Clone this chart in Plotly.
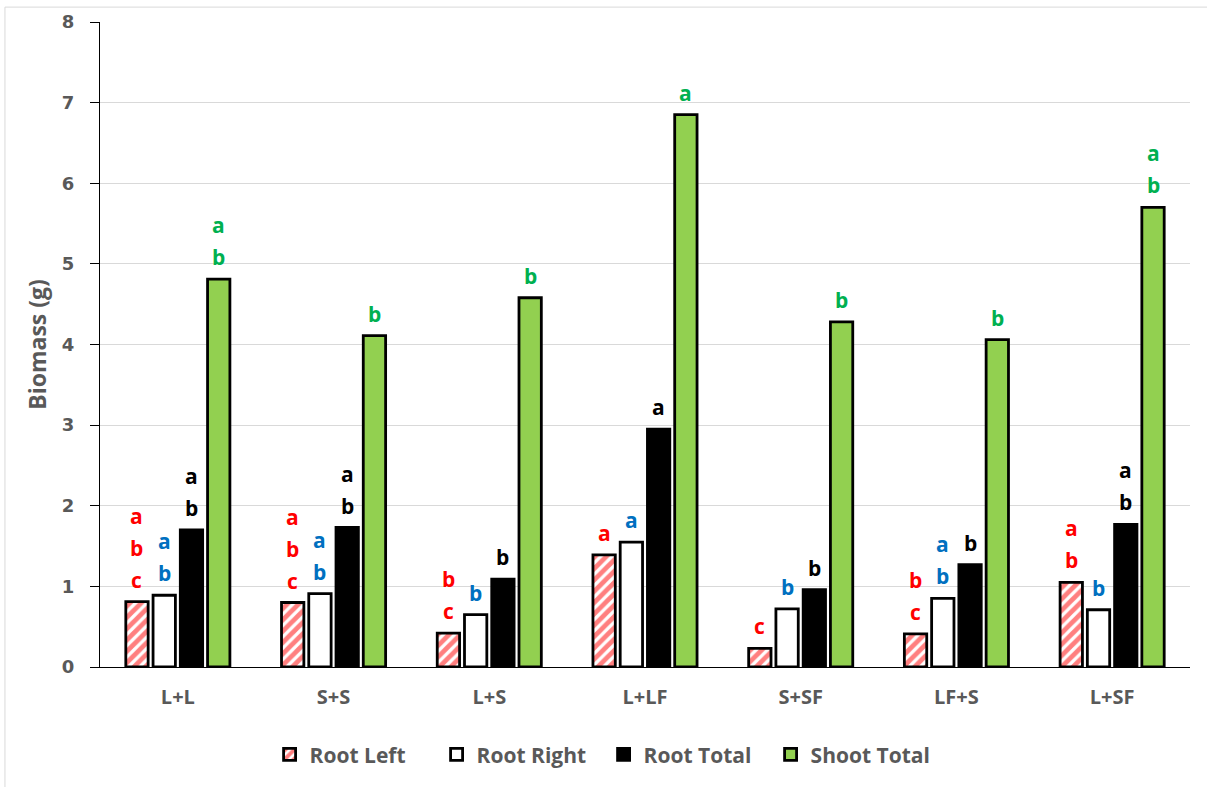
import plotly.graph_objects as go

# Treatments and biomass means (g)
categories = ["L+L", "S+S", "L+S", "L+LF", "S+SF", "LF+S", "L+SF"]
root_left = [0.81, 0.80, 0.42, 1.39, 0.23, 0.41, 1.05]
root_right = [0.89, 0.91, 0.65, 1.55, 0.72, 0.85, 0.71]
root_total = [1.70, 1.73, 1.09, 2.95, 0.96, 1.27, 1.77]
shoot_total = [4.81, 4.11, 4.58, 6.85, 4.28, 4.06, 5.70]

# Significance letters, listed top to bottom for each bar
letters_root_left = ["abc", "abc", "bc", "a", "c", "bc", "ab"]
letters_root_right = ["ab", "ab", "b", "a", "b", "ab", "b"]
letters_root_total = ["ab", "ab", "b", "a", "b", "b", "ab"]
letters_shoot_total = ["ab", "b", "b", "a", "b", "b", "ab"]

TEXT_GREY = "#595959"
LABEL_FONT = "Open Sans"

fig = go.Figure()

line = dict(color="black", width=2.8)
fig.add_trace(go.Bar(
    name="Root Left", x=categories, y=root_left,
    marker=dict(color="white", line=line,
                pattern=dict(shape="/", fgcolor="#FF0000", bgcolor="white",
                             size=8, solidity=0.6)),
))
fig.add_trace(go.Bar(name="Root Right", x=categories, y=root_right,
                     marker=dict(color="white", line=line)))
fig.add_trace(go.Bar(name="Root Total", x=categories, y=root_total,
                     marker=dict(color="black", line=line)))
fig.add_trace(go.Bar(name="Shoot Total", x=categories, y=shoot_total,
                     marker=dict(color="#92D050", line=line)))

bargap = 0.30
slot = (1 - bargap) / 4
series = [
    (root_left, letters_root_left, "#FF0000"),
    (root_right, letters_root_right, "#0070C0"),
    (root_total, letters_root_total, "#000000"),
    (shoot_total, letters_shoot_total, "#00B050"),
]

annotations = []
for s, (vals, lets, col) in enumerate(series):
    offset = -(1 - bargap) / 2 + slot * (s + 0.5)
    for i, (v, word) in enumerate(zip(vals, lets)):
        for k, ch in enumerate(reversed(word)):
            annotations.append(dict(
                x=i + offset, y=v, xref="x", yref="y",
                text=f"<b>{ch}</b>", showarrow=False,
                yanchor="middle", xanchor="center",
                yshift=22 + 32 * k,
                font=dict(family=LABEL_FONT, size=21, color=col),
            ))

fig.update_layout(
    width=1207, height=787,
    margin=dict(l=100, r=17, t=22, b=117),
    paper_bgcolor="white", plot_bgcolor="white",
    barmode="group", bargap=bargap, bargroupgap=0.18,
    annotations=annotations,
    showlegend=True,
    legend=dict(
        orientation="h", x=0.462, xanchor="center", y=-0.136, yanchor="middle",
        font=dict(family=LABEL_FONT, size=21, color=TEXT_GREY, weight="bold"),
        traceorder="normal", entrywidth=122, entrywidthmode="pixels",
    ),
    shapes=[dict(
        type="rect", xref="paper", yref="paper",
        x0=-0.0872, x1=1.03, y0=-0.2, y1=1.0231,
        line=dict(color="#D9D9D9", width=1), fillcolor="rgba(0,0,0,0)",
        layer="below",
    )],
)

fig.update_xaxes(
    showline=True, linecolor="black", linewidth=1,
    ticks="", showgrid=False,
    tickfont=dict(family=LABEL_FONT, size=20, color=TEXT_GREY, weight="bold"),
    ticklabelstandoff=12,
)
fig.update_yaxes(
    range=[0, 8], dtick=1,
    showline=True, linecolor="black", linewidth=1,
    ticks="outside", ticklen=9, tickcolor="black",
    showgrid=True, gridcolor="#D9D9D9", gridwidth=1,
    zeroline=False,
    tickfont=dict(family="DejaVu Sans", size=18, color=TEXT_GREY, weight="bold"),
    ticklabelstandoff=12,
    title=dict(text="<b>Biomass (g)</b>", standoff=8,
               font=dict(family=LABEL_FONT, size=23, color=TEXT_GREY)),
)

fig.write_html("out.html")
